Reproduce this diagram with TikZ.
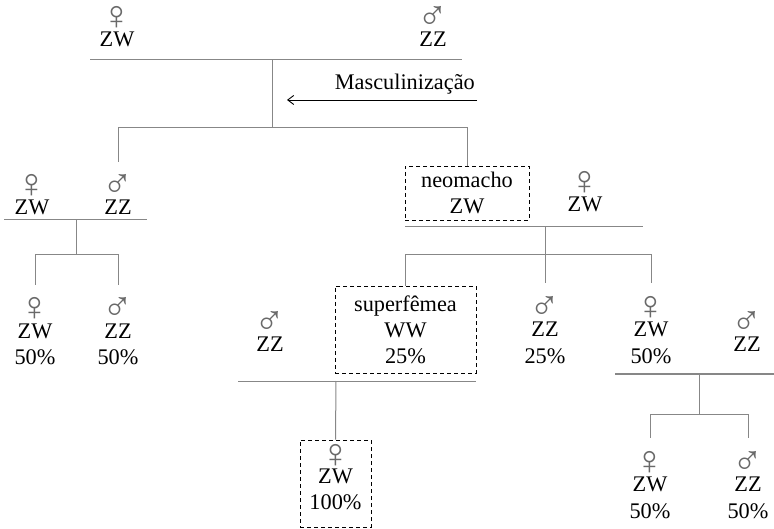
\documentclass[tikz,border=0pt]{standalone}
\usepackage{fontspec}
\setmainfont{Liberation Serif}
\usepackage{xcolor}
\usetikzlibrary{arrows.meta}
\definecolor{linegray}{RGB}{135,135,135}
\definecolor{symbolgray}{RGB}{105,105,105}
\newcommand{\sexsym}[1]{\smash{\raisebox{-10pt}{\fontsize{41}{27}\selectfont\color{symbolgray}#1}}}
\newcommand{\fem}{\sexsym{♀}}
\newcommand{\mal}{\sexsym{♂}}

\begin{document}
\begin{tikzpicture}[x=1pt, y=-1pt,
    font=\fontsize{22.3}{27}\selectfont,
    ind/.style={anchor=base, align=center, inner sep=0pt, outer sep=26pt},
    dashbox/.style={draw, dashed, dash pattern=on 4pt off 3pt, line width=0.9pt,
      align=center, inner sep=0pt, font=\fontsize{22.3}{26}\selectfont},
    link/.style={draw=linegray, line width=1pt}]
  \useasboundingbox (0,0) rectangle (774,529);

  % Parental cross
  \node[ind] (p-fem) at (117,47) {\fem\\ZW};
  \node[ind] (p-mal) at (433,47) {\mal\\ZZ};
  \draw[link] (90,60) -- (462,60);
  \coordinate (mate1) at (272,60);
  \coordinate (sib1) at (272,128);

  % Masculinization arrow
  \node[anchor=base east, inner sep=0pt] (masc) at (475,90) {Masculinização};
  \coordinate (arr-start) at (477,100);
  \coordinate (arr-end) at (287,100);
  \draw[line width=0.9pt, -{Straight Barb[length=6pt, width=9pt]}] (arr-start) -- (arr-end);

  % Left cross and its offspring
  \node[ind] (l-fem) at (32,215) {\fem\\ZW};
  \node[ind] (l-mal) at (118,215) {\mal\\ZZ};
  \draw[link] (4,220) -- (147,220);
  \coordinate (mate2) at (76,220);
  \coordinate (sib2) at (76,255);
  \node[ind] (lc-fem) at (35,365) {\fem\\ZW\\50\%};
  \node[ind] (lc-mal) at (118,365) {\mal\\ZZ\\50\%};

  % Right cross with the neomale
  \node[dashbox, minimum width=124pt, minimum height=54pt] (neo) at (467,193) {neomacho\\ZW};
  \node[ind] (r-fem) at (585,212) {\fem\\ZW};
  \draw[link] (405,227) -- (643,227);
  \coordinate (mate3) at (545,227);
  \coordinate (sib3) at (545,255);
  \node[dashbox, minimum width=141pt, minimum height=87pt] (super) at (405.5,329.5) {superfêmea\\WW\\25\%};
  \node[ind] (rc-mal) at (545,363) {\mal\\ZZ\\25\%};
  \node[ind] (rc-fem) at (651,363) {\fem\\ZW\\50\%};

  % Superfemale x male
  \node[ind] (sl-mal) at (270,352) {\mal\\ZZ};
  \draw[link] (238,381) -- (476,381);
  \coordinate (mate4) at (336,381);
  \node[dashbox, minimum width=71pt, minimum height=87pt] (all-fem) at (335.5,483.5) {\fem\\ZW\\100\%};

  % Female x male
  \node[ind] (rr-mal) at (747,352) {\mal\\ZZ};
  \draw[link] (615,374) -- (774,374);
  \coordinate (mate5) at (699,374);
  \coordinate (sib5) at (699,414);
  \node[ind] (rrc-fem) at (650,518) {\fem\\ZW\\50\%};
  \node[ind] (rrc-mal) at (748,518) {\mal\\ZZ\\50\%};

  % Descent lines
  \draw[link] (mate1) -- (sib1);
  \draw[link] (sib1) -| (l-mal.north);
  \draw[link] (sib1) -| (neo.north);
  \draw[link] (mate2) -- (sib2);
  \foreach \kid in {lc-fem, lc-mal}
    \draw[link] (sib2) -| (\kid.north);
  \draw[link] (mate3) -- (sib3);
  \foreach \kid in {super, rc-mal, rc-fem}
    \draw[link] (sib3) -| (\kid.north);
  \draw[link] (mate4) -- (all-fem.north);
  \draw[link] (mate5) -- (sib5);
  \foreach \kid in {rrc-fem, rrc-mal}
    \draw[link] (sib5) -| (\kid.north);
\end{tikzpicture}
\end{document}
